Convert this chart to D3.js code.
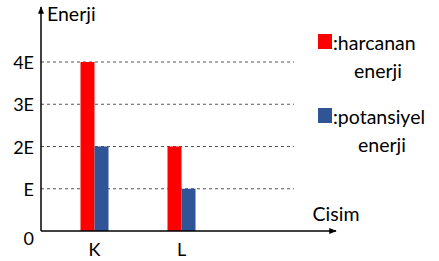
<!DOCTYPE html>
<html>
<head>
<meta charset="utf-8">
<script src="https://cdn.jsdelivr.net/npm/d3@7"></script>
<style>
  body { margin: 0; background: #fff; }
  svg { display: block; font-family: Lato, "Open Sans", sans-serif; }
</style>
</head>
<body>
<svg id="chart" width="439" height="261"></svg>
<script>
// ----- data ---------------------------------------------------------------
const categories = ["K", "L"];
const seriesNames = ["harcanan", "potansiyel"];
const harcanan = [4, 2];
const potansiyel = [2, 1];
const yTicks = [0, 1, 2, 3, 4];
const yTickLabels = ["0", "E", "2E", "3E", "4E"];
const legendLabels = [[":harcanan", "enerji"], [":potansiyel", "enerji"]];
const colors = ["#ff0000", "#2f5597"];

// ----- layout -------------------------------------------------------------
const svg = d3.select("#chart");
const x0 = 41, y0 = 231;
const fsWord = 19.5, fsTick = 18;

const x = d3.scaleBand().domain(categories).range([51, 225]);
const xs = d3.scaleBand().domain(seriesNames).range([-14, 14]);
const y = d3.scaleLinear().domain([0, 4]).range([y0, 62]);

svg.append("defs").append("marker")
    .attr("id", "arrow").attr("viewBox", "0 0 10 10")
    .attr("refX", 9).attr("refY", 5)
    .attr("markerWidth", 5).attr("markerHeight", 5)
    .attr("orient", "auto")
    .append("path").attr("d", "M0,1 L10,5 L0,9 z").attr("fill", "#000");

// dashed grid lines
svg.append("g").selectAll("line")
    .data(yTicks.slice(1))
    .join("line")
    .attr("x1", x0).attr("x2", 294)
    .attr("y1", (d) => y(d)).attr("y2", (d) => y(d))
    .attr("stroke", "#555").attr("stroke-width", 1)
    .attr("stroke-dasharray", "3,3");

// bars
const rows = categories.map((c, i) => ({ cat: c, vals: [harcanan[i], potansiyel[i]] }));
svg.append("g").selectAll("g")
    .data(rows)
    .join("g")
    .attr("transform", (d) => `translate(${x(d.cat) + x.bandwidth() / 2},0)`)
    .selectAll("rect")
    .data((d) => d.vals.map((v, j) => ({ key: seriesNames[j], v, j })))
    .join("rect")
    .attr("x", (d) => xs(d.key))
    .attr("width", xs.bandwidth())
    .attr("y", (d) => y(d.v))
    .attr("height", (d) => y0 - y(d.v))
    .attr("fill", (d) => colors[d.j]);

// axes with arrows
svg.append("line")
    .attr("x1", x0).attr("y1", y0).attr("x2", x0).attr("y2", 7)
    .attr("stroke", "#000").attr("stroke-width", 1.5)
    .attr("marker-end", "url(#arrow)");
svg.append("line")
    .attr("x1", x0).attr("y1", y0).attr("x2", 336).attr("y2", y0)
    .attr("stroke", "#000").attr("stroke-width", 1.5)
    .attr("marker-end", "url(#arrow)");

// y tick labels
svg.append("g").selectAll("text")
    .data(yTicks)
    .join("text")
    .attr("x", 34)
    .attr("y", (d) => (d === 0 ? 238 : y(d)))
    .attr("text-anchor", "end")
    .attr("dominant-baseline", "central")
    .attr("font-size", fsTick)
    .text((d, i) => yTickLabels[i]);

// x category labels
svg.append("g").selectAll("text")
    .data(categories)
    .join("text")
    .attr("x", (d) => x(d) + x.bandwidth() / 2)
    .attr("y", 249)
    .attr("text-anchor", "middle")
    .attr("dominant-baseline", "central")
    .attr("font-size", fsTick)
    .text((d) => d);

// axis titles
svg.append("text").attr("x", 47).attr("y", 13)
    .attr("dominant-baseline", "central").attr("font-size", fsWord).text("Enerji");
svg.append("text").attr("x", 336).attr("y", 213)
    .attr("text-anchor", "middle").attr("dominant-baseline", "central")
    .attr("font-size", fsWord).text("Cisim");

// legend
const leg = svg.append("g").selectAll("g")
    .data(legendLabels)
    .join("g")
    .attr("transform", (d, i) => `translate(318,${34 + i * 74})`);
leg.append("rect")
    .attr("width", 14).attr("height", 15)
    .attr("fill", (d, i) => colors[i]);
leg.append("text")
    .attr("x", 15).attr("y", 8)
    .attr("dominant-baseline", "central").attr("font-size", fsWord)
    .text((d) => d[0]);
leg.append("text")
    .attr("x", (d, i) => (i === 0 ? 60 : 64)).attr("y", 36)
    .attr("text-anchor", "middle")
    .attr("dominant-baseline", "central").attr("font-size", fsWord)
    .text((d) => d[1]);
</script>
</body>
</html>
